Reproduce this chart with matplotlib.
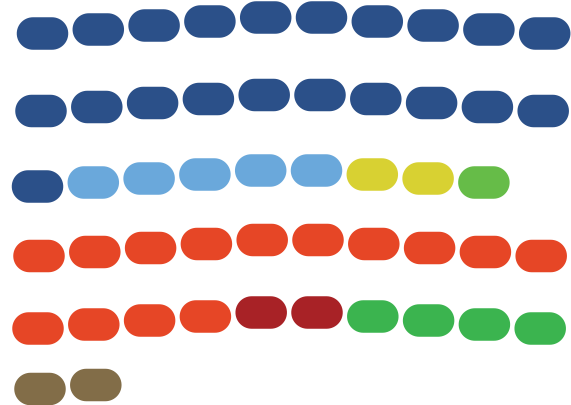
import numpy as np
import matplotlib
matplotlib.use('Agg')
import matplotlib.pyplot as plt
from matplotlib.patches import Polygon

# seat data, one entry per party, grouped in blocs (each bloc starts on a new row)
parties = ['Blue', 'Light blue', 'Yellow', 'Light green', 'Red', 'Dark red', 'Green', 'Brown']
seats = [21, 5, 2, 1, 14, 2, 4, 2]
colors = ['#2b5089', '#6aa8db', '#d8d132', '#66bc48', '#e64626', '#a82226', '#3bb44f', '#826d48']
blocs = [0, 0, 0, 0, 1, 1, 1, 2]

PER_ROW = 10
STEP = 55.8  # horizontal distance between seats
PILL_W = 51.5
PILL_H = 32.5
SLOPE = 0.0717  # rows sag a little towards both ends

# left seat x centre and apex y for each row (pixels)
row_x0 = [42.5, 41, 37.5, 39, 38, 40]
row_apex = [16.5, 94, 169.5, 239, 311.5, 372]


def stadium(x, y, w, h):
    # outline of a pill: two half circles joined by straight edges
    r = h / 2
    t = np.linspace(-np.pi / 2, np.pi / 2, 30)
    right = np.column_stack([x + w / 2 - r + r * np.cos(t), y + r * np.sin(t)])
    left = np.column_stack([x - w / 2 + r - r * np.cos(t), y - r * np.sin(t)])
    return np.vstack([right, left])


fig = plt.figure(figsize=(5.71, 4.06), dpi=100)
ax = fig.add_axes([0, 0, 1, 1])
ax.set_xlim(0, 571)
ax.set_ylim(406, 0)
ax.axis('off')

row = 0
col = 0
prev_bloc = blocs[0]
for party, n, c, b in zip(parties, seats, colors, blocs):
    if b != prev_bloc:
        row += 1
        col = 0
        prev_bloc = b
    for i in range(n):
        if col == PER_ROW:
            row += 1
            col = 0
        xc = row_x0[row] + (PER_ROW - 1) / 2 * STEP
        x = row_x0[row] + col * STEP
        y = row_apex[row] + SLOPE * abs(x - xc)
        ax.add_patch(Polygon(stadium(x, y, PILL_W, PILL_H), closed=True,
                             facecolor=c, edgecolor='none'))
        col += 1

fig.savefig('out.png', dpi=100, facecolor='white')
